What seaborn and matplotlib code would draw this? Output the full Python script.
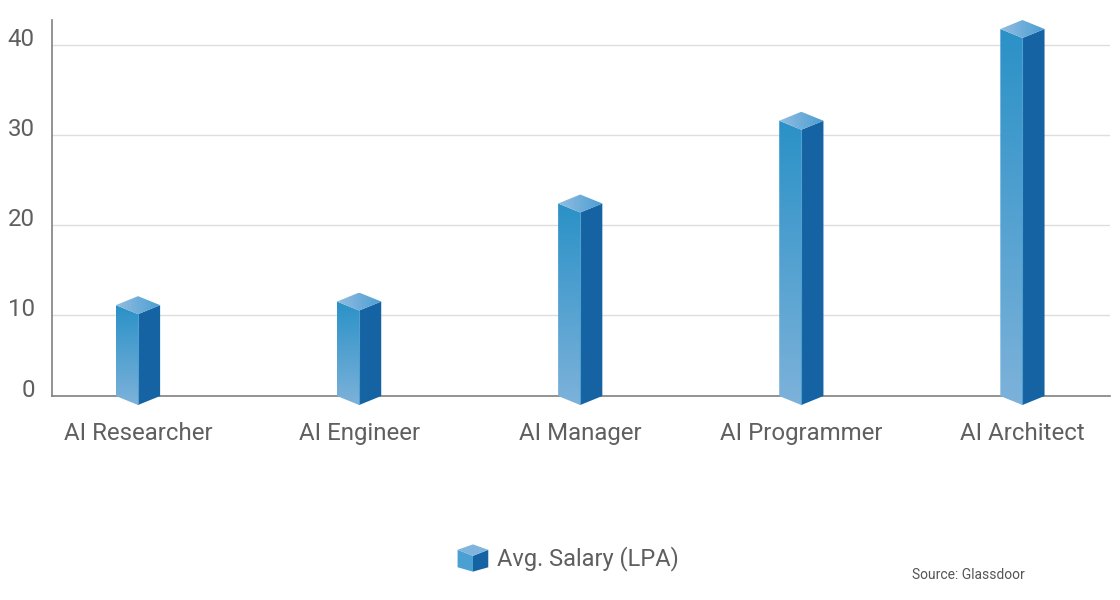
import numpy as np
import pandas as pd
import seaborn as sns
import matplotlib.pyplot as plt
from matplotlib.patches import Polygon, Patch
from matplotlib.legend_handler import HandlerBase
from matplotlib.transforms import ScaledTranslation
from matplotlib.colors import LinearSegmentedColormap

# Data
roles = ['AI Researcher', 'AI Engineer', 'AI Manager', 'AI Programmer', 'AI Architect']
salary = [11.1, 11.5, 22.4, 31.6, 41.8]
y_ticks = [0, 10, 20, 30, 40]
legend_label = 'Avg. Salary (LPA)'
source_note = 'Source: Glassdoor'

df = pd.DataFrame({'role': roles, 'salary': salary})

sns.set_theme(style='white')
plt.rcParams['font.family'] = ['Roboto', 'DejaVu Sans']

TEXT = '#5f5f5f'
LEFT_CMAP = LinearSegmentedColormap.from_list('left', ['#7db2da', '#2a91c7'])
TOP_CMAP = LinearSegmentedColormap.from_list('top', ['#93bde0', '#4a9ed3'])
RIGHT = '#1663a3'
DEPTH = 1.0   # half height of the top diamond, in value units
BASE = 1.0    # floor of the prisms (axis line)

fig = plt.figure(figsize=(11.2, 6), dpi=100)
ax = fig.add_axes([52 / 1120, 1 - 405 / 600, (1110 - 52) / 1120, 385 / 600])

# bars from seaborn give the positions, faces are drawn on top of them
sns.barplot(data=df, x='role', y='salary', width=0.2, errorbar=None, ax=ax)

grad_v = np.linspace(0, 1, 256).reshape(-1, 1)
grad_h = np.linspace(0, 1, 256).reshape(1, -1)

for bar in ax.patches:
    bar.set_visible(False)
    x0 = bar.get_x()
    w = bar.get_width()
    xc = x0 + w / 2
    x1 = x0 + w
    v = bar.get_height()

    # left face, vertical gradient
    left = Polygon([(x0, v), (xc, v - DEPTH), (xc, BASE - DEPTH), (x0, BASE)],
                   closed=True, facecolor='none', edgecolor='none')
    ax.add_patch(left)
    im = ax.imshow(grad_v, cmap=LEFT_CMAP, origin='lower', aspect='auto',
                   extent=(x0, xc, BASE - DEPTH, v), zorder=3)
    im.set_clip_path(left)

    # right face, flat dark blue
    ax.add_patch(Polygon([(xc, v - DEPTH), (x1, v), (x1, BASE), (xc, BASE - DEPTH)],
                         closed=True, facecolor=RIGHT, edgecolor='none', zorder=3))

    # top diamond, horizontal gradient
    top = Polygon([(x0, v), (xc, v + DEPTH), (x1, v), (xc, v - DEPTH)],
                  closed=True, facecolor='none', edgecolor='none')
    ax.add_patch(top)
    im = ax.imshow(grad_h, cmap=TOP_CMAP, origin='lower', aspect='auto',
                   extent=(x0, x1, v - DEPTH, v + DEPTH), zorder=4)
    im.set_clip_path(top)

    # light front edge
    ax.plot([xc, xc], [BASE - DEPTH, v - DEPTH], color='#4f9fd2', lw=0.8, zorder=5)

ax.set_xlim(-0.389, 4.396)
ax.set_ylim(0, 42.8)

# axes styling
ax.set_yticks(y_ticks)
ax.set_yticklabels([str(t) for t in y_ticks])
ax.yaxis.grid(True, color='#dedede', lw=1)
ax.set_axisbelow(True)
ax.get_ygridlines()[0].set_visible(False)
ax.set_xlabel('')
ax.set_ylabel('')

sns.despine(ax=ax)
ax.spines['bottom'].set_position(('data', BASE))
ax.spines['left'].set_bounds(BASE, 42.8)
for s in ('left', 'bottom'):
    ax.spines[s].set_color('#808080')
    ax.spines[s].set_linewidth(1.2)

ax.tick_params(axis='both', length=0, labelsize=17.3, labelcolor=TEXT)
ax.tick_params(axis='x', pad=19)
ax.tick_params(axis='y', pad=12.5)

# y labels sit a little above their gridlines
for i, lab in enumerate(ax.get_yticklabels()):
    shift = 17 if i == 0 else 8
    lab.set_transform(lab.get_transform() + ScaledTranslation(0, shift / 100, fig.dpi_scale_trans))


class CubeHandler(HandlerBase):
    def create_artists(self, legend, orig_handle, xdescent, ydescent,
                       width, height, fontsize, trans):
        x0, y0 = -xdescent, -ydescent

        def pts(coords):
            return [(x0 + u * width, y0 + t * height) for u, t in coords]

        faces = [
            (pts([(0, 0.8), (0.5, 0.58), (0.5, 0), (0, 0.16)]), '#4a9fd3'),
            (pts([(0.5, 0.58), (1, 0.8), (1, 0.16), (0.5, 0)]), RIGHT),
            (pts([(0, 0.8), (0.5, 1), (1, 0.8), (0.5, 0.58)]), '#80b4dc'),
        ]
        return [Polygon(p, closed=True, facecolor=c, edgecolor='none', transform=trans)
                for p, c in faces]


handle = Patch()
fig.legend(handles=[handle], labels=[legend_label], handler_map={handle: CubeHandler()},
           loc='center', bbox_to_anchor=(568 / 1120, 1 - 558 / 600), frameon=False,
           fontsize=17, handlelength=1.3, handleheight=1.4, handletextpad=0.35,
           labelcolor=TEXT)

fig.text(912 / 1120, 1 - 575 / 600, source_note, fontsize=10, color='#555555', va='center')

fig.savefig('out.png', dpi=100)
